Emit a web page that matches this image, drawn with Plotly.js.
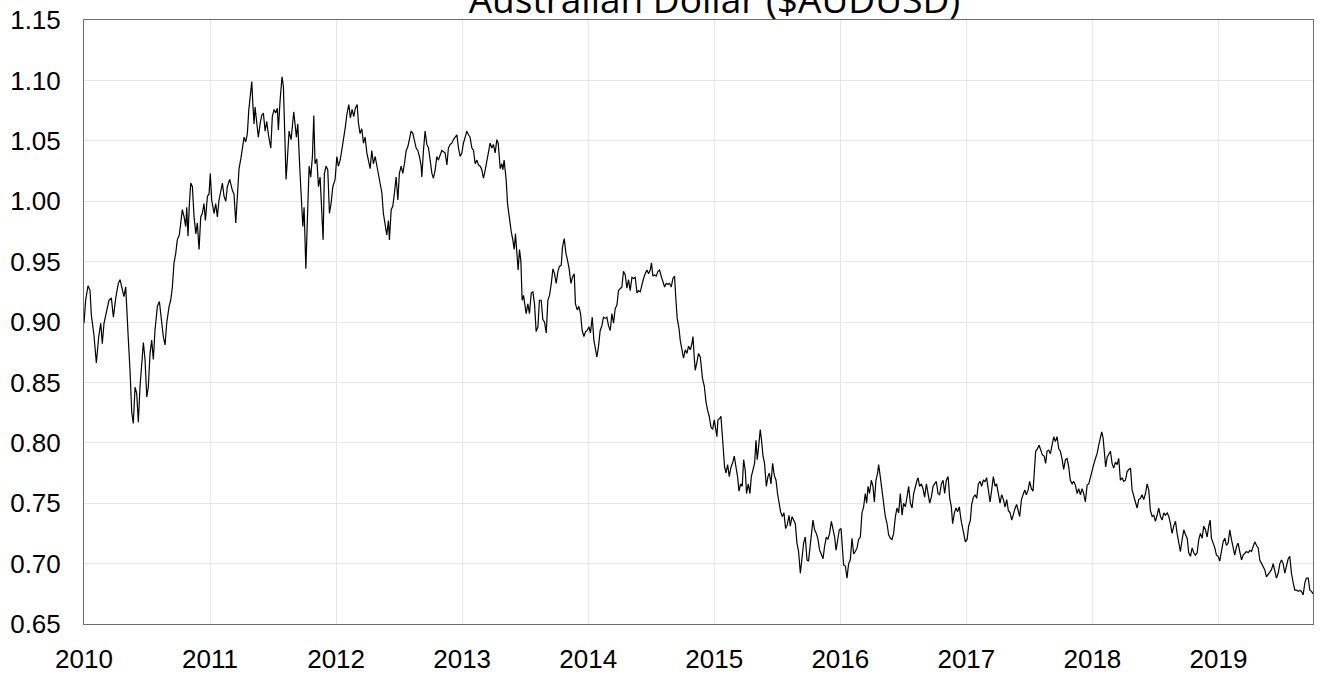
<!DOCTYPE html>
<html>
<head>
<meta charset="utf-8">
<script src="https://cdn.plot.ly/plotly-3.0.1.min.js"></script>
<style>html,body{margin:0;padding:0;background:#fff;}#chart{width:1322px;height:675px;}</style>
</head>
<body>
<div id="chart"></div>
<script>
// Decimal year of each reading
const years = [
2010.000,2010.013,2010.032,2010.048,2010.058,2010.079,2010.098,2010.117,2010.133,2010.145,2010.159,2010.180,2010.198,2010.217,2010.233,2010.252,2010.272,2010.286,2010.304,2010.317,2010.331,2010.344,2010.352,2010.365,2010.379,2010.391,2010.405,2010.418,2010.431,2010.444,2010.458,2010.471,2010.484,2010.498,2010.510,2010.524,2010.537,2010.550,2010.563,2010.582,2010.598,2010.617,2010.629,2010.643,2010.656,2010.675,
2010.688,2010.701,2010.714,2010.728,2010.740,2010.756,2010.767,2010.780,2010.794,2010.807,2010.815,2010.825,2010.836,2010.847,2010.860,2010.873,2010.887,2010.899,2010.913,2010.926,2010.939,2010.952,2010.963,2010.979,2010.992,
2011.002,2011.013,2011.032,2011.045,2011.058,2011.071,2011.085,2011.098,2011.111,2011.125,2011.137,2011.156,2011.177,2011.190,2011.204,2011.217,2011.230,2011.244,2011.256,2011.270,2011.283,2011.296,2011.307,2011.323,2011.331,2011.341,2011.349,2011.357,2011.371,2011.383,2011.397,2011.410,2011.423,2011.437,2011.450,2011.463,2011.482,2011.494,2011.508,2011.521,2011.534,2011.542,2011.556,2011.571,2011.582,2011.593,
2011.603,2011.613,2011.627,2011.643,2011.664,2011.685,2011.696,2011.714,2011.728,2011.736,2011.746,2011.760,2011.772,2011.786,2011.799,2011.812,2011.823,2011.833,2011.847,2011.860,2011.873,2011.887,2011.897,2011.907,2011.921,2011.934,2011.947,2011.960,2011.974,2011.992,
2012.006,2012.018,2012.032,2012.045,2012.061,2012.074,2012.087,2012.101,2012.113,2012.127,2012.140,2012.153,2012.167,2012.177,2012.190,2012.204,2012.217,2012.230,2012.244,2012.256,2012.270,2012.283,2012.296,2012.310,2012.323,2012.336,2012.349,2012.363,2012.375,2012.389,2012.402,2012.415,2012.423,2012.437,2012.450,2012.463,2012.476,2012.490,2012.502,2012.516,2012.529,2012.542,2012.556,2012.569,2012.582,2012.595,2012.609,2012.621,2012.635,2012.648,2012.661,2012.675,2012.680,2012.693,2012.706,2012.720,2012.733,2012.746,2012.760,2012.772,2012.786,2012.799,2012.812,2012.825,2012.839,2012.852,2012.865,2012.879,2012.891,2012.905,2012.918,2012.931,2012.944,2012.958,2012.971,2012.984,2012.998,
2013.010,2013.024,2013.037,2013.050,2013.063,2013.077,2013.090,2013.103,2013.117,2013.129,2013.143,2013.156,2013.169,2013.183,2013.196,2013.209,2013.222,2013.236,2013.248,2013.262,2013.275,2013.286,2013.296,2013.302,2013.315,2013.323,2013.333,2013.341,2013.349,2013.360,2013.371,2013.381,2013.389,2013.402,2013.413,2013.423,2013.434,2013.444,2013.455,2013.466,2013.476,2013.487,2013.498,2013.508,2013.521,2013.534,2013.548,2013.561,2013.574,2013.587,2013.601,2013.613,2013.627,2013.640,2013.653,2013.667,2013.680,2013.693,2013.706,2013.720,2013.733,2013.746,2013.760,2013.772,2013.786,2013.796,2013.810,2013.823,2013.836,2013.849,2013.863,2013.875,2013.889,2013.899,2013.913,2013.926,2013.939,2013.952,2013.966,2013.979,2013.992,
2014.006,2014.018,2014.032,2014.045,2014.058,2014.069,2014.082,2014.095,2014.109,2014.121,2014.135,2014.148,2014.161,2014.175,2014.188,2014.201,2014.214,2014.228,2014.240,2014.254,2014.267,2014.280,2014.294,2014.307,2014.320,2014.333,2014.347,2014.360,2014.373,2014.387,2014.399,2014.413,2014.426,2014.439,2014.452,2014.466,2014.479,2014.492,2014.502,2014.513,2014.526,2014.540,2014.553,2014.566,2014.579,2014.593,2014.606,2014.619,2014.633,2014.645,2014.659,2014.672,2014.685,2014.696,2014.706,2014.720,2014.730,2014.744,2014.756,2014.770,2014.783,2014.796,2014.810,2014.823,2014.831,2014.841,
2014.849,2014.863,2014.875,2014.889,2014.897,2014.907,2014.921,2014.934,2014.947,2014.960,2014.974,2014.987,
2015.000,2015.010,2015.021,2015.029,2015.042,2015.053,2015.061,2015.071,2015.082,2015.093,2015.106,2015.119,2015.133,2015.145,2015.159,2015.172,2015.185,2015.196,2015.209,2015.222,2015.233,2015.246,2015.256,2015.270,2015.283,2015.294,2015.307,2015.320,2015.331,2015.341,2015.352,2015.365,2015.375,2015.387,2015.399,2015.413,2015.426,2015.437,2015.450,2015.463,2015.476,2015.490,2015.502,2015.513,2015.526,2015.540,2015.553,2015.566,2015.579,2015.593,2015.603,2015.617,2015.629,2015.643,2015.656,2015.669,2015.683,2015.696,2015.709,2015.722,2015.736,2015.748,2015.762,2015.775,2015.783,2015.796,2015.810,2015.823,2015.836,2015.849,2015.863,2015.875,2015.889,2015.902,2015.915,2015.929,2015.942,2015.955,2015.966,2015.979,2015.992,
2016.006,2016.013,2016.026,2016.040,2016.053,2016.066,2016.079,2016.093,2016.106,2016.119,2016.133,2016.145,2016.159,2016.172,2016.185,2016.198,2016.209,2016.220,2016.232,2016.246,2016.259,2016.270,2016.283,2016.296,2016.304,2016.317,2016.331,2016.344,2016.357,2016.371,2016.383,2016.397,2016.410,2016.423,2016.437,2016.450,2016.463,
2016.476,2016.490,2016.502,2016.516,2016.529,2016.542,2016.556,2016.569,2016.582,2016.595,2016.609,2016.617,2016.629,2016.643,2016.656,2016.669,2016.683,2016.696,2016.709,2016.722,2016.736,2016.748,2016.762,2016.775,2016.788,2016.802,2016.815,2016.828,2016.841,2016.855,2016.868,2016.881,2016.891,2016.905,2016.918,2016.931,2016.944,2016.958,2016.968,2016.979,2016.992,
2017.006,2017.018,2017.032,2017.042,2017.056,2017.069,2017.082,2017.095,2017.109,2017.121,2017.135,2017.148,2017.161,2017.175,2017.188,2017.201,2017.214,2017.228,2017.240,2017.254,2017.267,2017.280,2017.294,2017.307,2017.320,2017.333,2017.347,2017.360,2017.373,2017.387,2017.399,2017.413,2017.423,2017.437,2017.450,2017.463,2017.476,2017.490,2017.502,2017.516,2017.529,2017.540,2017.550,2017.563,2017.577,2017.590,2017.603,2017.617,2017.629,2017.640,2017.653,2017.667,2017.680,2017.693,2017.706,2017.720,2017.733,2017.746,2017.760,2017.772,2017.786,2017.799,2017.812,2017.825,2017.839,2017.852,2017.865,2017.879,2017.891,2017.905,2017.918,2017.931,2017.944,2017.958,2017.971,2017.984,2017.998,
2018.010,2018.024,2018.037,2018.050,2018.063,2018.074,2018.085,2018.095,
2018.105,2018.117,2018.129,2018.143,2018.156,2018.169,2018.183,2018.196,2018.209,2018.222,2018.236,2018.248,2018.262,2018.275,2018.288,2018.302,2018.315,2018.328,2018.341,2018.355,2018.367,2018.381,2018.394,2018.407,2018.421,2018.434,2018.447,2018.460,2018.474,2018.487,2018.500,2018.513,2018.526,2018.540,2018.553,2018.566,2018.579,2018.593,2018.606,2018.619,2018.632,2018.645,2018.659,2018.672,2018.685,2018.698,2018.712,2018.725,2018.738,2018.752,2018.764,2018.778,2018.791,2018.804,2018.817,2018.831,2018.844,2018.857,2018.871,2018.883,2018.897,2018.910,2018.923,2018.934,2018.944,2018.958,2018.971,2018.984,2018.998,
2019.010,2019.024,2019.037,2019.050,2019.063,2019.077,2019.090,2019.103,2019.117,2019.129,2019.143,2019.156,2019.169,2019.183,2019.196,2019.209,2019.222,2019.236,2019.248,2019.262,2019.275,2019.288,2019.302,2019.315,2019.328,2019.341,2019.355,2019.367,2019.381,2019.394,2019.407,2019.421,2019.434,2019.447,2019.460,2019.474,2019.487,2019.500,2019.513,2019.526,2019.540,2019.553,2019.566,2019.579,2019.593,2019.606,2019.619,2019.633,2019.645,2019.659,2019.672,2019.685,2019.698,2019.712,2019.725,2019.738,2019.751
];
// AUD/USD rate read at each point
const rate = [
0.899,0.918,0.930,0.926,0.906,0.889,0.866,0.888,0.899,0.882,0.899,0.909,0.918,0.920,0.904,0.920,0.932,0.935,0.927,0.921,0.929,0.907,0.885,0.860,0.825,0.816,0.846,0.841,0.817,0.846,0.866,0.883,0.869,0.838,0.846,0.874,0.885,0.869,0.893,0.913,0.917,0.899,0.888,0.881,0.899,0.913,
0.918,0.929,0.949,0.957,0.968,0.972,0.982,0.993,0.987,0.979,0.995,0.971,0.998,1.015,1.012,0.987,0.973,0.982,0.960,0.987,0.990,0.998,0.984,1.004,1.006,
1.023,1.001,0.990,0.998,0.987,1.001,1.009,1.015,1.004,1.000,1.012,1.018,1.009,1.006,0.982,1.006,1.027,1.035,1.045,1.053,1.049,1.056,1.075,1.089,1.099,1.078,1.064,1.078,1.062,1.053,1.064,1.071,1.073,1.058,1.066,1.055,1.044,1.070,1.076,1.073,1.077,1.059,1.084,1.103,1.095,1.044,
1.018,1.034,1.058,1.051,1.074,1.053,1.064,1.023,0.995,0.979,0.995,0.944,0.984,1.029,1.020,1.037,1.071,1.031,1.035,1.012,1.020,0.995,0.968,1.023,1.029,1.026,0.990,0.998,1.012,1.018,
1.037,1.029,1.034,1.042,1.052,1.062,1.073,1.080,1.069,1.076,1.070,1.077,1.080,1.065,1.056,1.060,1.048,1.053,1.040,1.034,1.027,1.042,1.031,1.037,1.029,1.020,1.012,1.007,0.990,0.979,0.972,0.984,0.968,0.993,0.996,1.007,1.020,1.001,1.023,1.029,1.023,1.031,1.042,1.045,1.051,1.058,1.056,1.049,1.044,1.042,1.037,1.029,1.020,1.042,1.058,1.047,1.044,1.034,1.023,1.019,1.026,1.037,1.034,1.038,1.042,1.041,1.040,1.030,1.044,1.047,1.048,1.051,1.053,1.055,1.044,1.037,1.040,
1.048,1.053,1.058,1.055,1.053,1.044,1.042,1.031,1.034,1.030,1.029,1.026,1.019,1.026,1.034,1.040,1.048,1.044,1.047,1.040,1.051,1.048,1.038,1.027,1.031,1.026,1.034,1.027,1.018,0.998,0.987,0.979,0.975,0.968,0.960,0.973,0.954,0.943,0.960,0.950,0.918,0.922,0.914,0.907,0.915,0.907,0.924,0.925,0.915,0.892,0.896,0.918,0.918,0.902,0.900,0.891,0.918,0.922,0.931,0.944,0.940,0.932,0.942,0.946,0.947,0.962,0.969,0.957,0.951,0.944,0.932,0.937,0.940,0.915,0.910,0.913,0.907,0.893,0.888,0.892,0.893,
0.896,0.891,0.904,0.885,0.878,0.871,0.880,0.893,0.897,0.904,0.903,0.904,0.897,0.893,0.907,0.899,0.911,0.914,0.926,0.928,0.929,0.942,0.939,0.928,0.935,0.926,0.937,0.936,0.937,0.924,0.926,0.925,0.932,0.936,0.940,0.943,0.940,0.943,0.949,0.938,0.939,0.938,0.942,0.943,0.938,0.932,0.929,0.932,0.931,0.932,0.929,0.936,0.938,0.918,0.903,0.895,0.885,0.877,0.870,0.877,0.874,0.880,0.877,0.882,0.888,0.871,
0.860,0.867,0.874,0.871,0.860,0.853,0.847,0.834,0.827,0.822,0.813,0.811,
0.819,0.812,0.805,0.819,0.820,0.822,0.811,0.797,0.780,0.775,0.782,0.772,0.780,0.783,0.789,0.780,0.772,0.760,0.766,0.764,0.786,0.777,0.758,0.766,0.758,0.772,0.777,0.783,0.802,0.786,0.797,0.811,0.802,0.789,0.783,0.764,0.772,0.775,0.766,0.783,0.773,0.769,0.758,0.750,0.743,0.739,0.742,0.729,0.732,0.740,0.731,0.739,0.736,0.733,0.717,0.710,0.692,0.706,0.717,0.722,0.703,0.702,0.717,0.731,0.736,0.728,0.725,0.720,0.711,0.708,0.704,0.714,0.722,0.720,0.725,0.735,0.729,0.722,0.711,0.722,0.728,
0.729,0.720,0.699,0.698,0.688,0.700,0.703,0.721,0.708,0.710,0.713,0.720,0.722,0.742,0.747,0.758,0.750,0.764,0.758,0.769,0.764,0.751,0.769,0.775,0.782,0.772,0.761,0.747,0.739,0.733,0.724,0.721,0.720,0.725,0.739,0.746,0.742,
0.758,0.740,0.750,0.747,0.755,0.764,0.750,0.746,0.758,0.764,0.769,0.771,0.764,0.766,0.762,0.755,0.766,0.758,0.750,0.755,0.764,0.766,0.768,0.758,0.757,0.766,0.769,0.758,0.769,0.772,0.754,0.747,0.733,0.742,0.746,0.743,0.747,0.736,0.731,0.725,0.718,
0.720,0.731,0.736,0.749,0.755,0.757,0.754,0.766,0.768,0.764,0.769,0.768,0.771,0.761,0.751,0.761,0.772,0.764,0.766,0.758,0.750,0.757,0.753,0.747,0.753,0.744,0.742,0.736,0.742,0.746,0.749,0.743,0.739,0.753,0.757,0.761,0.757,0.761,0.768,0.762,0.760,0.775,0.793,0.795,0.798,0.794,0.790,0.789,0.783,0.793,0.794,0.791,0.797,0.805,0.801,0.805,0.795,0.793,0.786,0.778,0.786,0.787,0.780,0.769,0.766,0.768,0.765,0.758,0.762,0.757,0.762,0.758,0.751,0.765,0.766,0.772,0.778,
0.782,0.787,0.791,0.798,0.804,0.809,0.804,0.793,
0.780,0.788,0.790,0.793,0.783,0.779,0.784,0.782,0.787,0.769,0.771,0.768,0.769,0.776,0.778,0.779,0.761,0.755,0.751,0.746,0.753,0.754,0.757,0.753,0.758,0.766,0.761,0.744,0.739,0.740,0.735,0.740,0.746,0.739,0.736,0.742,0.740,0.742,0.739,0.733,0.725,0.731,0.735,0.725,0.717,0.710,0.720,0.728,0.724,0.721,0.709,0.706,0.713,0.709,0.707,0.709,0.720,0.725,0.721,0.731,0.728,0.722,0.731,0.736,0.721,0.717,0.713,0.707,0.706,
0.702,0.710,0.718,0.721,0.715,0.717,0.728,0.720,0.711,0.707,0.714,0.717,0.710,0.703,0.707,0.709,0.710,0.709,0.711,0.710,0.714,0.718,0.715,0.713,0.703,0.700,0.697,0.695,0.689,0.691,0.692,0.695,0.700,0.695,0.688,0.692,0.700,0.703,0.700,0.692,0.700,0.704,0.706,0.692,0.684,0.678,0.678,0.677,0.678,0.677,0.674,0.684,0.688,0.688,0.678,0.677,0.675
];
const yTicks = [0.65,0.70,0.75,0.80,0.85,0.90,0.95,1.00,1.05,1.10,1.15];
const xTicks = [2010,2011,2012,2013,2014,2015,2016,2017,2018,2019];
const chartTitle = 'Australian Dollar ($AUDUSD)';

const trace = {
  x: years, y: rate, type: 'scatter', mode: 'lines',
  line: {color: '#000000', width: 1.2}, hoverinfo: 'x+y'
};
const layout = {
  width: 1322, height: 675,
  margin: {l: 84, r: 9, t: 20, b: 51},
  paper_bgcolor: '#ffffff', plot_bgcolor: '#ffffff',
  showlegend: false,
  title: {text: chartTitle, font: {family: 'Open Sans', size: 37, color: '#000'},
          xref: 'paper', x: 0.513, xanchor: 'center', yref: 'container', y: 1, yanchor: 'middle'},
  xaxis: {
    type: 'linear', range: [2010, 2019.75],
    tickmode: 'array', tickvals: xTicks, ticktext: xTicks.map(String),
    showgrid: true, gridcolor: '#e6e6e6', gridwidth: 1,
    showline: true, linecolor: '#6e6e6e', linewidth: 1, mirror: true,
    ticks: '', zeroline: false, ticklabelstandoff: 12,
    tickfont: {family: 'Liberation Sans, Arial', size: 26, color: '#000'}
  },
  yaxis: {
    range: [0.65, 1.15],
    tickmode: 'array', tickvals: yTicks, ticktext: yTicks.map(v => v.toFixed(2)),
    showgrid: true, gridcolor: '#e6e6e6', gridwidth: 1,
    showline: true, linecolor: '#6e6e6e', linewidth: 1, mirror: true,
    ticks: '', zeroline: false, ticklabelstandoff: 17,
    tickfont: {family: 'Liberation Sans, Arial', size: 26, color: '#000'}
  }
};
Plotly.newPlot('chart', [trace], layout, {displayModeBar: false, staticPlot: true});
</script>
</body>
</html>
